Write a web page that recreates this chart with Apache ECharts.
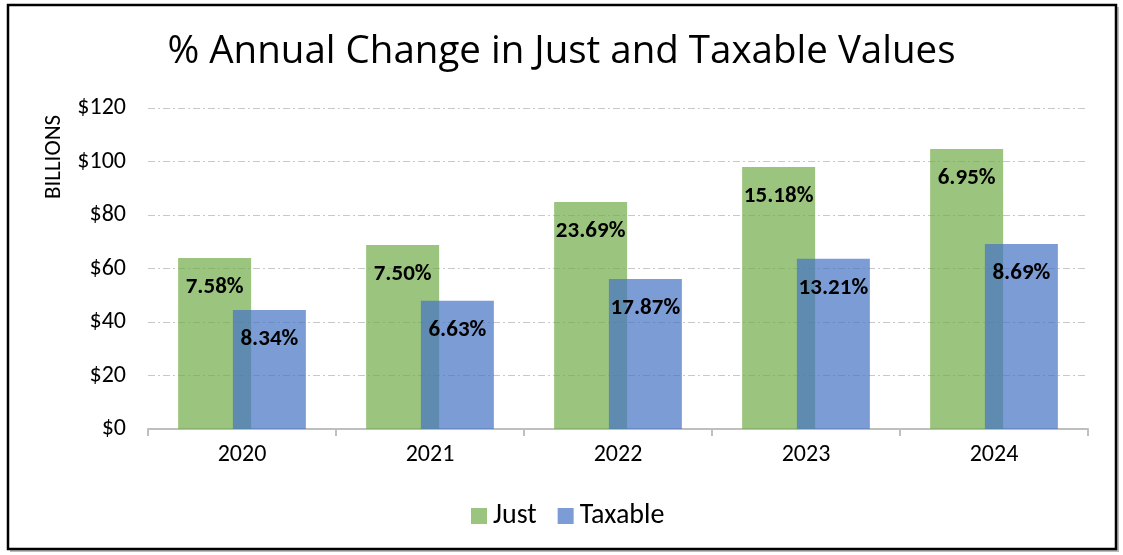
<!DOCTYPE html>
<html>
<head>
<meta charset="utf-8">
<script src="https://cdn.jsdelivr.net/npm/echarts@6/dist/echarts.min.js"></script>
<style>
html,body{margin:0;padding:0;background:#fff;}
#chart{width:1123px;height:555px;}
</style>
</head>
<body>
<div id="chart"></div>
<script>
const categories = ['2020', '2021', '2022', '2023', '2024'];
const justValues = [63.9, 68.8, 84.9, 97.9, 104.7];
const taxableValues = [44.5, 47.9, 56.1, 63.6, 69.2];
const justChange = ['7.58%', '7.50%', '23.69%', '15.18%', '6.95%'];
const taxableChange = ['8.34%', '6.63%', '17.87%', '13.21%', '8.69%'];
const yTicks = [0, 20, 40, 60, 80, 100, 120];

const FONT = 'Carlito, Lato, "Noto Sans", sans-serif';
const TITLE_FONT = 'Open Sans';
const chart = echarts.init(document.getElementById('chart'));
const labelStyle = {
  show: true,
  position: 'insideTop',
  distance: 18,
  color: '#000',
  fontWeight: 'bold',
  fontSize: 23,
  fontFamily: FONT
};
chart.setOption({
  animation: false,
  title: {
    text: '% Annual Change in Just and Taxable Values',
    left: 'center',
    top: 28,
    textStyle: {fontSize: 38.5, fontWeight: 'normal', color: '#000', fontFamily: TITLE_FONT}
  },
  graphic: [
    {type: 'rect', shape: {x: 10, y: 7, width: 1109, height: 545}, style: {fill: '#bbb'}, z: -2},
    {type: 'rect', shape: {x: 8, y: 5, width: 1108, height: 544}, style: {fill: '#fff', stroke: '#000', lineWidth: 2.5}, z: -1},
    {type: 'text', x: 54, y: 157, rotation: Math.PI / 2,
      style: {text: 'BILLIONS', fontSize: 23, fontFamily: FONT, fill: '#000', textAlign: 'center', textVerticalAlign: 'middle'}}
  ],
  legend: {
    top: 497,
    left: 466,
    itemWidth: 16,
    itemHeight: 16,
    itemGap: 21,
    icon: 'rect',
    textStyle: {fontSize: 28, fontFamily: FONT, color: '#000', padding: [0, 0, 0, 1]},
    data: ['Just', 'Taxable']
  },
  grid: {left: 148, right: 35, top: 108, bottom: 126},
  xAxis: {
    type: 'category',
    data: categories,
    axisLine: {lineStyle: {color: '#bfbfbf', width: 2}},
    axisTick: {show: true, length: 7, lineStyle: {color: '#bfbfbf', width: 2}},
    axisLabel: {fontSize: 24, fontFamily: FONT, color: '#000', margin: 14}
  },
  yAxis: {
    type: 'value',
    min: yTicks[0],
    max: yTicks[yTicks.length - 1],
    interval: 20,
    axisLine: {show: false},
    axisTick: {show: false},
    axisLabel: {fontSize: 24, fontFamily: FONT, color: '#000', margin: 22, formatter: v => '$' + v},
    splitLine: {lineStyle: {color: '#c8c8c8', width: 1, type: [7, 3, 2, 3]}}
  },
  series: [
    {
      name: 'Just', type: 'bar', data: justValues,
      barWidth: 73, barGap: '-25%',
      itemStyle: {color: 'rgba(112,173,71,0.7)'},
      label: Object.assign({}, labelStyle, {formatter: p => justChange[p.dataIndex]})
    },
    {
      name: 'Taxable', type: 'bar', data: taxableValues,
      barWidth: 73,
      itemStyle: {color: 'rgba(68,114,196,0.7)'},
      label: Object.assign({}, labelStyle, {formatter: p => taxableChange[p.dataIndex]})
    }
  ]
});
</script>
</body>
</html>
